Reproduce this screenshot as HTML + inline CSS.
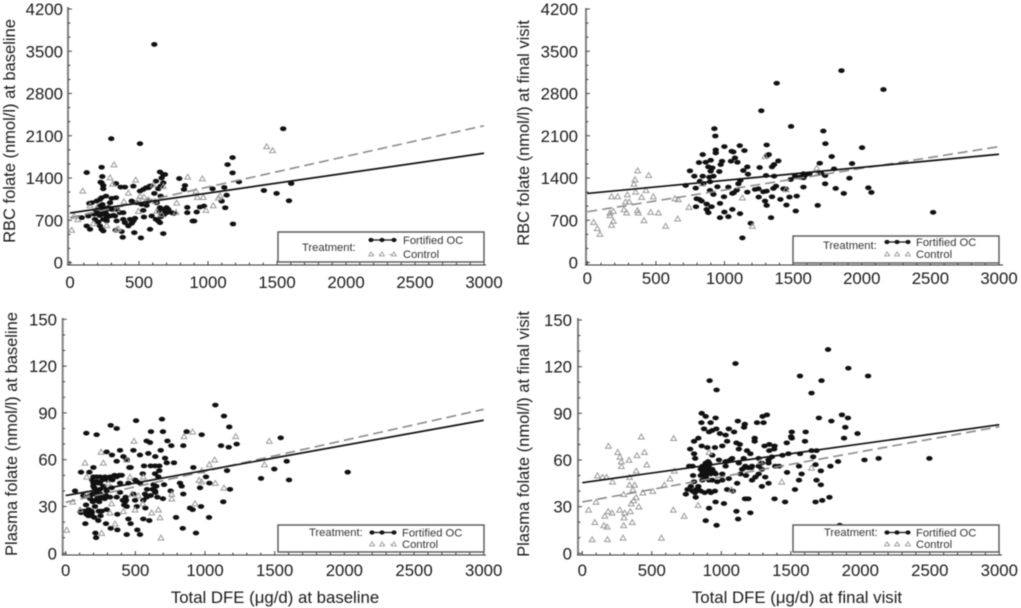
<!DOCTYPE html>
<html lang="en">
<head>
<meta charset="utf-8">
<title>Folate versus total DFE scatter plots</title>
<style>
html,body{margin:0;padding:0;background:#fff;}
#figure{display:block;width:1021px;height:608px;filter:blur(0.4px);font-family:"Liberation Sans",Arial,sans-serif;}
</style>
</head>
<body>
<svg id="figure" xmlns="http://www.w3.org/2000/svg" width="1021" height="608" viewBox="0 0 1021 608"></svg>
<script>
// ---------- shared axis data ----------
const xTickLabels = [0, 500, 1000, 1500, 2000, 2500, 3000];
const rbcTickLabels = [0, 700, 1400, 2100, 2800, 3500, 4200];
const plasmaTickLabels = [0, 30, 60, 90, 120, 150];
const lineEndsX = [0, 3000];

// ---------- RBC folate at baseline ----------
const rbcBaselineFortified = [[611,3613],[299,2051],[507,1969],[1545,2216],[1178,1738],[1142,1622],[1178,1485],[1224,1336],[1603,1309],[1405,1193],[1497,1144],[1587,1023],[1181,638],[1125,907],[1135,1116],[1118,1243],[1033,1221],[1099,1017],[971,935],[942,918],[918,836],[900,687],[889,687],[850,913],[850,825],[833,1276],[826,1210],[792,1391],[753,814],[121,1490],[229,1578],[234,1424],[222,1331],[121,605],[145,550],[133,770],[85,743],[140,979],[157,990],[193,1018],[217,1045],[229,1073],[261,1100],[302,1062],[333,1073],[241,1221],[241,1276],[229,1320],[333,1309],[367,1249],[398,1249],[459,1265],[507,1183],[531,1210],[551,1238],[568,1238],[611,1144],[623,1348],[640,1221],[657,1265],[676,1320],[664,1400],[652,1500],[676,1458],[688,1458],[657,1100],[628,990],[568,1018],[555,946],[519,963],[483,990],[447,1018],[531,864],[536,754],[592,770],[623,715],[640,688],[652,660],[676,479],[580,550],[514,407],[466,495],[382,418],[374,512],[331,534],[241,523],[217,605],[229,550],[435,715],[471,732],[459,688],[447,649],[423,605],[398,660],[386,715],[338,688],[326,770],[314,781],[362,825],[386,825],[290,770],[266,743],[254,825],[278,908],[302,880],[338,880],[193,825],[205,880],[217,935],[241,908],[266,880],[290,990],[181,715],[205,671],[241,715],[266,688],[652,908],[676,880],[700,908],[712,880],[676,825],[700,825],[737,825],[190,860],[205,820],[215,780],[230,840],[245,800],[260,810],[215,900],[235,960],[175,800],[650,850],[665,800],[690,860],[660,760],[680,790],[575,1260],[585,1270]];
const rbcBaselineControl = [[12,539],[56,715],[92,1188],[29,770],[290,1408],[319,1622],[309,1303],[476,1370],[423,1155],[391,1012],[350,561],[145,946],[169,649],[266,616],[193,908],[495,1045],[507,1100],[536,1089],[568,1045],[604,1293],[616,1018],[628,853],[676,1265],[773,990],[768,836],[853,1419],[959,1392],[913,1183],[922,1084],[966,1084],[985,869],[1038,946],[1075,1073],[1087,1111],[1425,1925],[1468,1859],[495,853],[338,880],[664,798],[338,550]];
const rbcBaselineFortifiedLine = [820, 1810];
const rbcBaselineControlLine = [742, 2266];

// ---------- RBC folate at final visit ----------
const rbcFinalFortified = [[1852,3179],[2158,2866],[1380,2970],[1268,2514],[1485,2255],[926,2217],[933,2096],[1720,2178],[1735,1969],[1307,1947],[999,1920],[1111,1936],[1145,1854],[936,1865],[936,1815],[1052,1843],[1064,1832],[2002,1903],[841,1788],[1781,1755],[1076,1733],[1322,1788],[1312,1771],[1392,1683],[1929,1639],[1694,1645],[814,1656],[863,1661],[899,1694],[982,1678],[972,1623],[1047,1678],[1094,1661],[1361,1623],[1346,1584],[1166,1584],[882,1584],[911,1568],[899,1513],[962,1507],[1137,1524],[1171,1463],[1256,1573],[748,1518],[780,1430],[841,1430],[889,1414],[919,1430],[1302,1441],[1361,1430],[1910,1397],[1482,1375],[1514,1430],[1550,1414],[1575,1469],[1587,1447],[1618,1469],[1798,1551],[1701,1485],[1733,1304],[1733,1441],[717,1276],[790,1232],[821,1348],[846,1309],[894,1337],[948,1254],[1028,1249],[1115,1359],[1101,1304],[1089,1199],[1067,1155],[1057,1144],[1166,1166],[1222,1210],[1247,1221],[1283,1172],[1307,1183],[1356,1227],[1375,1265],[1429,1221],[1446,1221],[1575,1249],[1810,1227],[2048,1238],[2070,1161],[1869,1144],[797,1056],[816,1045],[833,1018],[792,924],[870,968],[906,924],[870,880],[882,825],[919,1128],[894,1194],[996,1089],[967,979],[967,743],[999,836],[1028,759],[1057,880],[1113,809],[1191,649],[1130,407],[1249,1084],[1346,1089],[1407,1045],[1473,1084],[1526,1100],[1451,952],[1295,1018],[1307,946],[1339,743],[1519,853],[1679,946],[2520,831],[1575,1403]];
const rbcFinalControl = [[46,671],[73,567],[92,473],[177,1095],[221,1095],[292,1128],[165,781],[177,622],[190,688],[190,853],[165,825],[279,1007],[306,1007],[267,880],[287,825],[367,1524],[447,1447],[347,1375],[340,1304],[352,1172],[428,1199],[396,1084],[481,1095],[365,864],[372,825],[413,699],[462,836],[518,825],[571,605],[639,1062],[663,1045],[659,726],[741,919],[1130,1073],[1203,605],[838,1309],[1295,1760],[1448,1210],[1672,1568],[1684,1485]];
const rbcFinalFortifiedLine = [1144, 1793];
const rbcFinalControlLine = [841, 1920];

// ---------- Plasma folate at baseline ----------
const plasmaBaselineFortified = [[323,82],[366,80],[148,77],[222,76],[505,85],[691,86],[612,78],[698,78],[868,78],[976,76],[1136,88],[1074,95],[1174,81],[1543,74],[1115,69],[1170,68],[1227,70],[1158,53],[1586,59],[1497,54],[1402,48],[1603,47],[2024,52],[1179,41],[1131,33],[1029,23],[935,13],[840,16],[792,23],[971,30],[892,29],[911,28],[964,42],[1031,45],[1007,49],[916,55],[844,69],[758,69],[730,72],[581,72],[605,71],[682,66],[643,62],[713,61],[725,58],[777,58],[753,40],[698,35],[643,39],[624,41],[584,41],[569,38],[557,34],[572,29],[600,21],[557,22],[514,15],[533,12],[438,12],[371,15],[323,16],[289,19],[234,21],[213,13],[218,10],[141,19],[110,26],[139,27],[165,28],[187,26],[237,27],[258,27],[294,28],[371,25],[438,30],[450,22],[466,19],[433,34],[390,39],[366,36],[318,36],[289,37],[246,35],[210,34],[175,35],[127,37],[67,40],[110,52],[170,52],[199,55],[246,49],[282,49],[318,49],[366,49],[402,50],[450,45],[510,46],[533,45],[457,55],[486,66],[390,66],[332,63],[294,65],[366,59],[414,62],[438,60],[466,55],[533,63],[562,56],[610,56],[641,56],[672,56],[672,53],[641,51],[553,51],[665,49],[641,40],[658,36],[581,36],[486,38],[426,33],[498,34],[199,43],[222,40],[246,41],[199,45],[175,37],[222,49],[199,49],[234,45],[270,43],[294,40],[330,42],[498,47],[706,44],[820,45],[832,43],[844,38],[146,31],[115,27],[163,24],[187,24],[510,30],[194,38],[593,64],[390,45],[190,47],[205,42],[215,38],[230,36],[240,33],[250,38],[265,36],[280,35],[195,33],[210,30],[225,46],[245,45],[265,47],[300,47],[335,47],[350,50],[385,50],[150,25],[170,25],[185,27],[205,23],[250,24],[410,34],[420,31],[430,36],[630,44],[650,43],[610,37]];
const plasmaBaselineControl = [[7,15],[50,33],[103,28],[139,58],[151,49],[254,65],[270,58],[306,45],[330,32],[318,26],[354,19],[258,13],[490,72],[438,60],[462,49],[474,38],[521,37],[553,32],[498,28],[414,27],[617,26],[677,23],[684,10],[665,28],[557,49],[761,38],[761,35],[849,75],[911,78],[928,32],[957,47],[976,46],[976,53],[1031,57],[1069,60],[1074,45],[1136,42],[1220,75],[1426,57],[1461,72],[151,38]];
const plasmaBaselineFortifiedLine = [37, 85.3];
const plasmaBaselineControlLine = [32.7, 92.3];

// ---------- Plasma folate at final visit ----------
const plasmaFinalFortified = [[1768,131],[1102,122],[1914,119],[1566,114],[2056,114],[916,111],[1721,111],[1649,103],[966,105],[859,90],[1868,89],[888,88],[959,87],[857,84],[923,84],[1119,85],[1169,83],[1164,81],[1911,87],[1702,87],[1792,85],[1892,81],[1980,77],[1257,84],[1304,84],[1297,88],[1328,89],[876,80],[912,78],[935,79],[964,80],[990,77],[1054,80],[1092,78],[1031,76],[1607,78],[1507,78],[1502,75],[1883,74],[1240,74],[1240,72],[1507,74],[1471,71],[1602,72],[835,74],[804,72],[776,67],[804,64],[812,61],[859,69],[900,68],[954,68],[1007,69],[1042,72],[1109,71],[1133,70],[1126,67],[1185,66],[1209,64],[1311,69],[1345,70],[1383,69],[1380,67],[1345,66],[1364,62],[1440,63],[1483,64],[1566,64],[1649,66],[1685,66],[1661,62],[2132,61],[2497,61],[2030,60],[1840,59],[1785,56],[1678,57],[1340,60],[1340,58],[1416,56],[1559,56],[793,56],[864,56],[888,58],[912,58],[935,63],[983,60],[1031,59],[1078,61],[1161,61],[1173,56],[1221,56],[1269,56],[1292,54],[1578,51],[1473,52],[1716,53],[1685,47],[1716,44],[1559,47],[1530,41],[1340,45],[1292,43],[1316,49],[1245,49],[1178,50],[1138,51],[1114,45],[1054,48],[1007,47],[971,46],[935,47],[864,47],[797,50],[781,43],[757,41],[745,38],[793,40],[852,40],[912,40],[954,40],[1042,41],[1083,40],[1178,35],[1383,35],[1459,33],[1678,33],[1726,34],[1778,36],[959,33],[1019,32],[912,29],[1109,27],[1209,26],[888,21],[1121,22],[966,18],[1852,18],[816,36],[852,54],[888,54],[923,51],[959,51],[1007,51],[1031,56],[888,49],[852,50],[912,47],[1126,58],[1150,54],[1221,47],[1292,58],[1388,56],[804,46],[1269,51],[835,43],[1269,61],[769,56],[870,54],[885,56],[895,53],[905,55],[915,57],[925,52],[880,50],[900,51],[935,54],[950,52],[865,52],[905,59],[820,41],[835,41],[800,40],[810,39],[880,39],[925,39],[1170,35],[1195,35],[1165,55],[1195,55],[1215,55],[1040,59],[1065,60]];
const plasmaFinalControl = [[71,9],[293,10],[569,10],[181,9],[45,28],[90,20],[98,33],[109,50],[145,49],[174,49],[188,69],[255,65],[271,62],[281,59],[281,56],[217,46],[336,60],[393,63],[388,53],[340,49],[340,44],[376,44],[364,41],[436,39],[507,40],[447,65],[464,57],[424,75],[657,74],[662,53],[631,48],[590,44],[162,24],[155,18],[179,17],[186,27],[214,26],[269,28],[305,26],[345,27],[300,23],[298,18],[359,20],[352,32],[369,34],[388,36],[407,30],[298,38],[655,28],[733,24],[833,31],[912,65],[1280,59],[1649,55],[1435,46],[1073,41]];
const plasmaFinalFortifiedLine = [45.4, 82.7];
const plasmaFinalControlLine = [33, 81.4];

// ---------- panel layout ----------
const NS = 'http://www.w3.org/2000/svg';
const figure = document.getElementById('figure');
const panels = [
  {name:'rbc-baseline', fortified:rbcBaselineFortified, control:rbcBaselineControl, fLine:rbcBaselineFortifiedLine, cLine:rbcBaselineControlLine,
   yTicks:rbcTickLabels, yMax:4200, yMinor:700/3, x0:70, x1:484, y0:262.5, y1:9, axisX:68, axisTop:7, axisBottom:265, axisRight:486, yLabelX:63, xLabelY:288,
   yTitle:'RBC folate (nmol/l) at baseline', yTitleX:15, yTitleY:131, xTitle:null,
   box:[278,232,206,30], treatX:302, treatY:251, mk:[371,382,394], row1:240, row2:254, legX:403},
  {name:'rbc-final', fortified:rbcFinalFortified, control:rbcFinalControl, fLine:rbcFinalFortifiedLine, cLine:rbcFinalControlLine,
   yTicks:rbcTickLabels, yMax:4200, yMinor:700/3, x0:587.3, x1:999, y0:262.5, y1:9, axisX:586, axisTop:8, axisBottom:265, axisRight:1003, yLabelX:578, xLabelY:284,
   yTitle:'RBC folate (nmol/l) at final visit', yTitleX:529, yTitleY:133, xTitle:null,
   box:[793,236,206,27], treatX:823, treatY:249, mk:[887,897,908], row1:242, row2:254, legX:916},
  {name:'plasma-baseline', fortified:plasmaBaselineFortified, control:plasmaBaselineControl, fLine:plasmaBaselineFortifiedLine, cLine:plasmaBaselineControlLine,
   yTicks:plasmaTickLabels, yMax:150, yMinor:10, x0:65.7, x1:483.7, y0:553.3, y1:319.3, axisX:62.7, axisTop:318, axisBottom:555, axisRight:486, yLabelX:57, xLabelY:576,
   yTitle:'Plasma folate (nmol/l) at baseline', yTitleX:17, yTitleY:434, xTitle:'Total DFE (\u03BCg/d) at baseline', xTitleX:275, xTitleY:603,
   box:[278,525,206,27], treatX:309, treatY:536, mk:[372,382,394], row1:532.5, row2:544, legX:402},
  {name:'plasma-final', fortified:plasmaFinalFortified, control:plasmaFinalControl, fLine:plasmaFinalFortifiedLine, cLine:plasmaFinalControlLine,
   yTicks:plasmaTickLabels, yMax:150, yMinor:10, x0:582.3, x1:999.3, y0:553.3, y1:320, axisX:578, axisTop:318, axisBottom:555, axisRight:1002, yLabelX:572, xLabelY:576,
   yTitle:'Plasma folate (nmol/l) at final visit', yTitleX:529, yTitleY:434, xTitle:'Total DFE (\u03BCg/d) at final visit', xTitleX:797, xTitleY:603,
   box:[793,525,206,27], treatX:824, treatY:536, mk:[887,897,908], row1:532.5, row2:544, legX:916}
];

function svgEl(tag, attrs, parent) {
  const el = document.createElementNS(NS, tag);
  for (const key in attrs) el.setAttribute(key, attrs[key]);
  parent.appendChild(el);
  return el;
}
function triPoints(cx, cy, r) {
  return (cx - r) + ',' + (cy + r * 0.8) + ' ' + (cx + r) + ',' + (cy + r * 0.8) + ' ' + cx + ',' + (cy - r * 0.9);
}

panels.forEach(function (p) {
  const sx = function (v) { return p.x0 + (v / 3000) * (p.x1 - p.x0); };
  const sy = function (v) { return p.y0 - (v / p.yMax) * (p.y0 - p.y1); };

  const g = svgEl('g', {}, figure);
  
  

  // axes
  const yAxis = svgEl('line', {x1:p.axisX, x2:p.axisX, y1:p.axisTop, y2:p.axisBottom, stroke:'#808080', 'stroke-width':2}, g);
  
  
  const xAxis = svgEl('line', {x1:p.axisX - 1, x2:p.axisRight, y1:p.axisBottom, y2:p.axisBottom, stroke:'#333', 'stroke-width':1}, g);
  
  

  // x ticks
  for (let v = 0; v <= 3000; v += 100) {
    const major = v % 500 === 0;
    const t = svgEl('line', {x1:sx(v), x2:sx(v), y1:p.axisBottom, y2:p.axisBottom - (major ? 4 : 2.5), stroke:'#333', 'stroke-width':0.9}, g);
    
    
  }
  xTickLabels.forEach(function (v) {
    const t = svgEl('text', {x:sx(v), y:p.xLabelY, 'text-anchor':'middle', 'font-size':16.8, fill:'#1a1a1a'}, g);
    
    
    t.textContent = String(v);
  });

  // y ticks
  for (let k = 0; k * p.yMinor <= p.yMax + 0.01; k++) {
    const yy = sy(k * p.yMinor);
    const major = k % 3 === 0;
    const t = svgEl('line', {x1:p.axisX, x2:p.axisX + (major ? 4 : 2.5), y1:yy, y2:yy, stroke:'#333', 'stroke-width':0.9}, g);
    
    
  }
  p.yTicks.forEach(function (v) {
    const t = svgEl('text', {x:p.yLabelX, y:sy(v) + 6, 'text-anchor':'end', 'font-size':16.8, fill:'#1a1a1a'}, g);
    
    
    t.textContent = String(v);
  });

  // titles
  const yt = svgEl('text', {transform:'translate(' + p.yTitleX + ' ' + p.yTitleY + ') rotate(-90)', 'text-anchor':'middle', 'font-size':16.5, fill:'#1a1a1a'}, g);
  
  
  yt.textContent = p.yTitle;
  if (p.xTitle) {
    const xt = svgEl('text', {x:p.xTitleX, y:p.xTitleY, 'text-anchor':'middle', 'font-size':16.8, fill:'#1a1a1a'}, g);
    
    
    xt.textContent = p.xTitle;
  }

  // marks
  p.fortified.forEach(function (d) {
    const m = svgEl('ellipse', {cx:sx(d[0]), cy:sy(d[1]), rx:3.2, ry:2.4, fill:'#111'}, g);
    
    
  });
  p.control.forEach(function (d) {
    const m = svgEl('polygon', {points:triPoints(sx(d[0]), sy(d[1]), 2.9), fill:'none', stroke:'#999', 'stroke-width':1}, g);
    
    
  });

  // fit lines
  const cl = svgEl('line', {x1:sx(lineEndsX[0]), y1:sy(p.cLine[0]), x2:sx(lineEndsX[1]), y2:sy(p.cLine[1]), stroke:'#8a8a8a', 'stroke-width':1.6, 'stroke-dasharray':'10 5'}, g);
  
  
  const fl = svgEl('line', {x1:sx(lineEndsX[0]), y1:sy(p.fLine[0]), x2:sx(lineEndsX[1]), y2:sy(p.fLine[1]), stroke:'#111', 'stroke-width':1.7}, g);
  
  

  // legend
  const lg = svgEl('g', {}, g);
  
  
  const box = svgEl('rect', {x:p.box[0], y:p.box[1], width:p.box[2], height:p.box[3], fill:'#fff', stroke:'#555', 'stroke-width':1.4}, lg);
  
  
  const tr = svgEl('text', {x:p.treatX, y:p.treatY, 'font-size':11.2, fill:'#333'}, lg);
  
  
  tr.textContent = 'Treatment:';

  const fs = svgEl('line', {x1:p.mk[0], x2:p.mk[2], y1:p.row1, y2:p.row1, stroke:'#111', 'stroke-width':1.2}, lg);
  
  
  p.mk.forEach(function (mx) {
    const m = svgEl('ellipse', {cx:mx, cy:p.row1, rx:2.6, ry:2.1, fill:'#161616'}, lg);
    
    
  });
  const ft = svgEl('text', {x:p.legX, y:p.row1 + 4, 'font-size':11.2, fill:'#333'}, lg);
  
  
  ft.textContent = 'Fortified OC';

  const cs = svgEl('line', {x1:p.mk[0] - 2, x2:p.mk[2] + 2, y1:p.row2 + 0.5, y2:p.row2 + 0.5, stroke:'#aaa', 'stroke-width':1, 'stroke-dasharray':'5 5'}, lg);
  
  
  p.mk.forEach(function (mx) {
    const m = svgEl('polygon', {points:triPoints(mx, p.row2, 2.4), fill:'#fff', stroke:'#9a9a9a', 'stroke-width':0.9}, lg);
    
    
  });
  const ct = svgEl('text', {x:p.legX, y:p.row2 + 4, 'font-size':11.2, fill:'#333'}, lg);
  
  
  ct.textContent = 'Control';
});
</script>
</body>
</html>
